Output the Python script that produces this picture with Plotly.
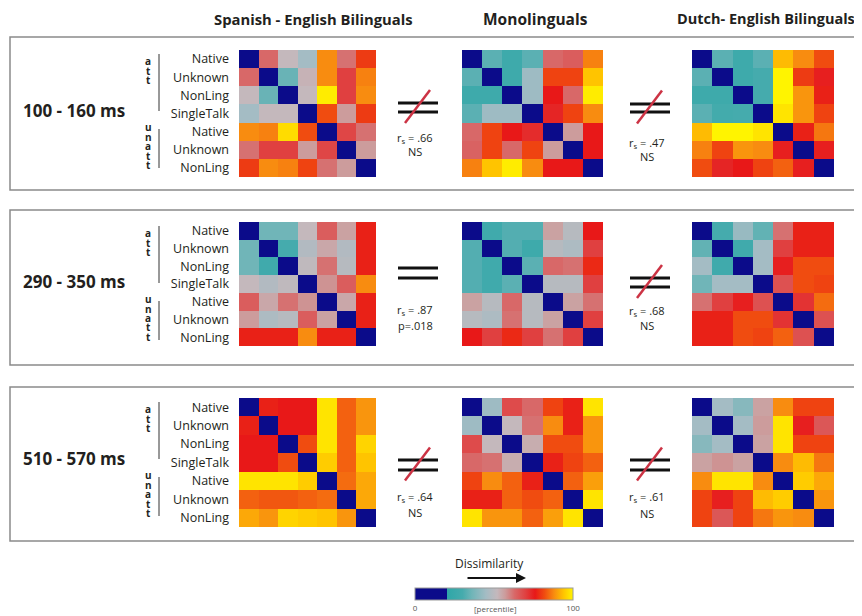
import plotly.graph_objects as go

# page is 862x616; the figure sits 8px in from the top-left of the page
PAGE_W, PAGE_H = 862, 616
OFF = 8
W, H = PAGE_W - OFF, PAGE_H - OFF

# ---------------- data ----------------
groups = ["Spanish - English Bilinguals", "Monolinguals", "Dutch- English Bilinguals"]
windows = ["100 - 160 ms", "290 - 350 ms", "510 - 570 ms"]
conditions = ["Native", "Unknown", "NonLing", "SingleTalk", "Native", "Unknown", "NonLing"]

spanish_100_160 = [
    [0, 63, 52, 45, 88, 62, 80],
    [63, 0, 35, 53, 88, 70, 87],
    [52, 35, 0, 52, 99, 70, 88],
    [45, 52, 52, 0, 82, 57, 80],
    [88, 87, 97, 82, 0, 69, 62],
    [62, 70, 70, 57, 69, 0, 57],
    [80, 88, 87, 81, 62, 57, 0],
]
mono_100_160 = [
    [0, 33, 27, 33, 63, 65, 87],
    [33, 0, 27, 44, 81, 81, 94],
    [27, 27, 0, 44, 76, 63, 99],
    [33, 44, 44, 0, 74, 81, 88],
    [63, 81, 76, 73, 0, 57, 76],
    [64, 81, 63, 81, 57, 0, 76],
    [87, 94, 99, 88, 76, 76, 0],
]
dutch_100_160 = [
    [0, 33, 27, 33, 93, 88, 82],
    [33, 0, 27, 30, 100, 80, 75],
    [27, 27, 0, 30, 100, 89, 77],
    [33, 29, 30, 0, 98, 89, 81],
    [93, 100, 100, 98, 0, 77, 86],
    [87, 81, 89, 88, 75, 0, 75],
    [82, 74, 76, 81, 84, 75, 0],
]
spanish_290_350 = [
    [0, 36, 36, 52, 65, 56, 77],
    [36, 0, 30, 48, 55, 48, 77],
    [36, 28, 0, 51, 62, 49, 77],
    [52, 48, 51, 0, 58, 65, 88],
    [65, 55, 62, 58, 0, 55, 77],
    [57, 47, 49, 65, 56, 0, 77],
    [77, 77, 77, 88, 77, 77, 0],
]
mono_290_350 = [
    [0, 28, 32, 32, 56, 49, 76],
    [32, 0, 32, 27, 49, 47, 70],
    [32, 28, 0, 33, 63, 62, 78],
    [32, 28, 33, 0, 49, 49, 70],
    [56, 49, 63, 49, 0, 56, 62],
    [49, 47, 62, 49, 56, 0, 70],
    [76, 70, 78, 70, 62, 70, 0],
]
dutch_290_350 = [
    [0, 30, 43, 34, 62, 77, 77],
    [34, 0, 28, 45, 70, 77, 77],
    [45, 28, 0, 45, 75, 82, 82],
    [36, 45, 45, 0, 67, 82, 81],
    [62, 70, 75, 67, 0, 72, 85],
    [77, 77, 82, 82, 72, 0, 67],
    [77, 77, 82, 81, 84, 67, 0],
]
spanish_510_570 = [
    [0, 77, 76, 76, 98, 84, 89],
    [77, 0, 76, 76, 98, 84, 89],
    [76, 76, 0, 82, 98, 84, 96],
    [76, 76, 82, 0, 95, 84, 94],
    [98, 98, 98, 95, 0, 85, 91],
    [84, 83, 83, 84, 85, 0, 91],
    [91, 89, 96, 95, 94, 89, 0],
]
mono_510_570 = [
    [0, 44, 68, 63, 81, 77, 98],
    [44, 0, 52, 62, 88, 77, 89],
    [68, 52, 0, 54, 82, 82, 89],
    [63, 62, 54, 0, 77, 81, 84],
    [81, 88, 84, 77, 0, 84, 90],
    [77, 77, 84, 82, 84, 0, 98],
    [98, 89, 89, 84, 90, 98, 0],
]
dutch_510_570 = [
    [0, 45, 40, 56, 88, 81, 81],
    [45, 0, 45, 57, 98, 75, 66],
    [40, 45, 0, 56, 98, 81, 81],
    [56, 58, 56, 0, 88, 93, 86],
    [88, 98, 98, 88, 0, 95, 91],
    [81, 75, 81, 93, 95, 0, 89],
    [81, 66, 81, 86, 89, 88, 0],
]

rs_left = [".66", ".87", ".64"]
sig_left = ["NS", "p=.018", "NS"]
equal_left = [False, True, False]
rs_right = [".47", ".68", ".61"]
sig_right = ["NS", "NS", "NS"]
equal_right = [False, False, False]

matrices = [
    [spanish_100_160, mono_100_160, dutch_100_160],
    [spanish_290_350, mono_290_350, dutch_290_350],
    [spanish_510_570, mono_510_570, dutch_510_570],
]

# ---------------- layout geometry (page pixels) ----------------
col_x = [(239, 376), (462, 603), (692, 834)]
row_y = [(50, 177), (222, 346), (398, 527)]
frames_y = [(37, 190), (210, 365), (387, 541)]
sym_left_y = [(103, 112), (268, 278), (460, 470)]
sym_right_y = [(104, 112), (278, 287), (460, 470)]
txt_left_y = [(138, 152), (310, 325), (497, 512)]
txt_right_y = [(143, 157), (311, 325), (497, 513)]
sym_cx = [418, 650]
title_cx = [313, 535, 766]
title_size = [14.8, 15.5, 14.5]


def px(x):
    return (x - OFF) / W


def py(y):
    return 1 - (y - OFF) / H


FONT = "Open Sans, Noto Sans, sans-serif"
TXT = "#231f20"

colorscale = [
    [0.00, "#0b0b8a"], [0.20, "#0b0b8a"],
    [0.205, "#2fa7a8"], [0.30, "#45abad"], [0.36, "#70b5b8"],
    [0.45, "#a4bcc4"], [0.52, "#c4b8bc"], [0.57, "#cc9c9c"],
    [0.63, "#d86868"], [0.70, "#e04040"], [0.76, "#e81818"],
    [0.82, "#f04c10"], [0.88, "#f88c10"], [0.94, "#ffc400"],
    [1.00, "#fff400"],
]

fig = go.Figure()
layout = {}
idx = 0
for r in range(3):
    for c in range(3):
        idx += 1
        sfx = "" if idx == 1 else str(idx)
        fig.add_trace(go.Heatmap(
            z=matrices[r][c], x=list(range(7)), y=list(range(7)),
            coloraxis="coloraxis", xaxis="x" + sfx, yaxis="y" + sfx,
            hovertemplate="%{z}<extra></extra>",
        ))
        x0, x1 = col_x[c]
        y0, y1 = row_y[r]
        layout["xaxis" + sfx] = dict(
            domain=[px(x0), px(x1)], anchor="y" + sfx, range=[-0.5, 6.5],
            showticklabels=False, showgrid=False, zeroline=False, ticks="",
            showline=False,
        )
        ydict = dict(
            domain=[py(y1), py(y0)], anchor="x" + sfx, range=[6.5, -0.5],
            showticklabels=(c == 0),
            showgrid=False, zeroline=False, ticks="", showline=False,
        )
        if c == 0:
            ydict.update(tickvals=list(range(7)), ticktext=conditions,
                         tickfont=dict(family=FONT, size=12.5, color=TXT),
                         ticklabelstandoff=9)
        layout["yaxis" + sfx] = ydict

shapes = []
annotations = []


def text(x, y, s, size, color=TXT, bold=False):
    annotations.append(dict(
        x=px(x), y=py(y), xref="paper", yref="paper",
        text=("<b>%s</b>" % s) if bold else s, showarrow=False,
        xanchor="center", yanchor="middle",
        font=dict(family=FONT, size=size, color=color)))


# column titles
for c, g in enumerate(groups):
    text(title_cx[c], 19, g, title_size[c], bold=True)

for r in range(3):
    top = row_y[r][0]
    fy0, fy1 = frames_y[r]
    shapes.append(dict(type="rect", xref="paper", yref="paper",
                       x0=px(10), x1=px(880), y0=py(fy1), y1=py(fy0),
                       line=dict(color="#8a8a8a", width=1.5)))
    text(74, top + 60, windows[r], 17, bold=True)
    # att / unatt vertical letters
    for i, ch in enumerate("att"):
        text(148, top + 11 + 9.5 * i, ch, 10, bold=True)
    for i, ch in enumerate("unatt"):
        text(148, top + 77 + 9.5 * i, ch, 10, bold=True)
    shapes.append(dict(type="line", xref="paper", yref="paper",
                       x0=px(159), x1=px(159), y0=py(top + 4), y1=py(top + 61),
                       line=dict(color="#333", width=1)))
    shapes.append(dict(type="line", xref="paper", yref="paper",
                       x0=px(159), x1=px(159), y0=py(top + 79), y1=py(top + 118),
                       line=dict(color="#333", width=1)))

    # comparison symbols + stats
    for side in range(2):
        cx = sym_cx[side]
        ly = (sym_left_y if side == 0 else sym_right_y)[r]
        ty = (txt_left_y if side == 0 else txt_right_y)[r]
        eq = (equal_left if side == 0 else equal_right)[r]
        rs = (rs_left if side == 0 else rs_right)[r]
        sg = (sig_left if side == 0 else sig_right)[r]
        for yy in ly:
            shapes.append(dict(type="line", xref="paper", yref="paper",
                               x0=px(cx - 20), x1=px(cx + 20), y0=py(yy), y1=py(yy),
                               line=dict(color="#111", width=3)))
        if not eq:
            mid = (ly[0] + ly[1]) / 2
            shapes.append(dict(type="line", xref="paper", yref="paper",
                               x0=px(cx - 13), x1=px(cx + 12),
                               y0=py(mid + 15.5), y1=py(mid - 17.5),
                               line=dict(color="#cc3344", width=2.5)))
        text(cx - 3, ty[0], "r<sub>s</sub> = %s" % rs, 11)
        text(cx - 3, ty[1], sg, 11)

# colorbar legend texts
text(490, 563, "Dissimilarity", 12)
annotations.append(dict(x=px(526), y=py(578), xref="paper", yref="paper",
                        ax=-60, ay=0, text="", showarrow=True, arrowhead=2,
                        arrowsize=1, arrowwidth=2, arrowcolor="#111"))
text(495, 608, "[percentile]", 8, color="#555")

fig.update_layout(
    **layout,
    width=W, height=H,
    margin=dict(l=0, r=0, t=0, b=0),
    paper_bgcolor="white", plot_bgcolor="white",
    shapes=shapes, annotations=annotations,
    showlegend=False,
    coloraxis=dict(
        colorscale=colorscale, cmin=0, cmax=100,
        colorbar=dict(
            orientation="h", x=px(494), xanchor="center", len=158 / W,
            y=py(588), yanchor="top", thickness=12, xpad=0, ypad=0,
            outlinewidth=1, outlinecolor="#999",
            tickvals=[0, 100], ticktext=["0", "100"], ticks="",
            tickfont=dict(family=FONT, size=8, color="#555"),
        ),
    ),
)

fig.write_html("out.html")
